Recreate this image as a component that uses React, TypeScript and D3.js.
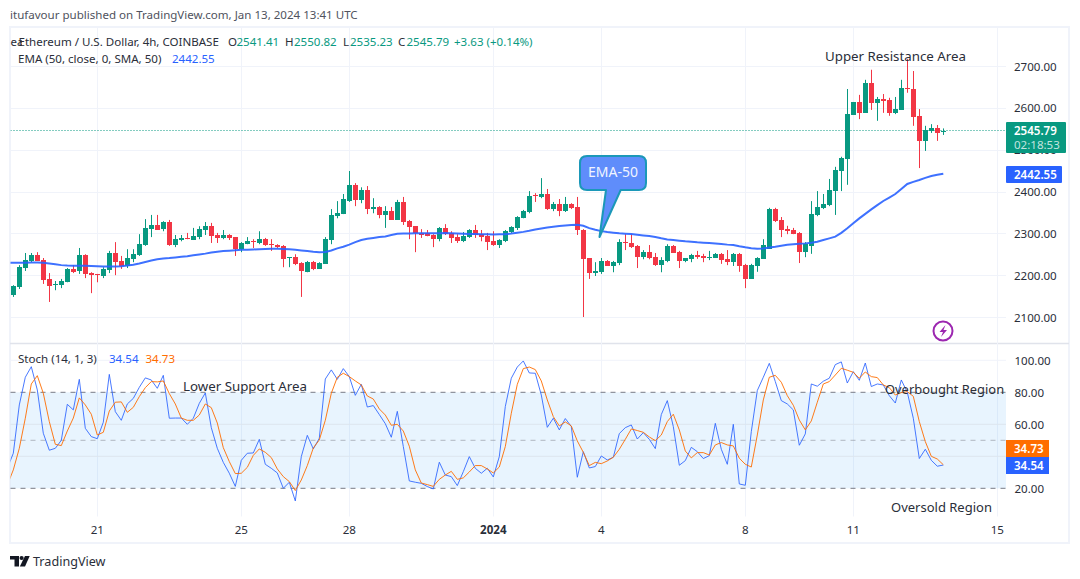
import React from "react";
import * as d3 from "d3";

const opens = [2152,2172,2217,2234,2248,2236,2191,2176,2176,2183,2215,2210,2248,2205,2203,2198,2212,2253,2234,2222,2238,2248,2272,2310,2320,2310,2327,2272,2284,2289,2284,2291,2308,2317,2296,2289,2296,2291,2262,2274,2281,2277,2286,2274,2272,2270,2241,2243,2229,2207,2231,2215,2227,2284,2341,2346,2377,2415,2380,2403,2358,2363,2344,2353,2332,2375,2329,2317,2300,2300,2296,2286,2313,2301,2291,2281,2291,2308,2298,2293,2281,2272,2281,2303,2313,2336,2351,2391,2387,2394,2358,2370,2353,2370,2363,2308,2241,2205,2207,2234,2222,2229,2279,2277,2270,2243,2255,2243,2224,2234,2270,2255,2234,2239,2248,2246,2241,2241,2251,2239,2231,2251,2224,2191,2222,2239,2263,2358,2332,2310,2308,2301,2255,2270,2344,2361,2368,2401,2449,2478,2583,2614,2588,2659,2612,2621,2619,2588,2595,2647,2645,2581,2521,2545,2552,2541.41];
const highs = [2176,2224,2253,2253,2255,2241,2205,2186,2191,2217,2224,2265,2250,2207,2203,2219,2258,2279,2246,2262,2262,2298,2334,2344,2344,2329,2332,2296,2296,2301,2313,2317,2327,2325,2301,2308,2298,2291,2279,2291,2286,2305,2289,2286,2274,2272,2243,2250,2231,2234,2234,2231,2291,2358,2377,2394,2449,2420,2410,2413,2384,2365,2365,2363,2380,2387,2332,2317,2310,2308,2298,2315,2322,2305,2298,2303,2310,2320,2308,2301,2305,2286,2308,2317,2341,2356,2401,2396,2432,2406,2375,2382,2387,2372,2387,2310,2241,2231,2241,2236,2234,2286,2298,2298,2272,2260,2272,2253,2243,2274,2272,2258,2241,2251,2258,2251,2258,2253,2253,2260,2253,2253,2227,2227,2243,2286,2361,2361,2339,2318,2313,2303,2279,2377,2401,2394,2430,2459,2483,2645,2614,2631,2667,2691,2626,2633,2624,2626,2667,2717,2688,2597,2557,2561,2559,2550.82];
const lows = [2148,2167,2210,2231,2234,2179,2136,2164,2169,2183,2205,2203,2193,2157,2183,2193,2205,2200,2215,2217,2231,2246,2270,2291,2308,2305,2270,2267,2281,2286,2284,2286,2296,2277,2277,2286,2284,2246,2255,2274,2265,2274,2270,2258,2265,2219,2219,2224,2148,2207,2212,2215,2227,2274,2336,2346,2375,2365,2372,2346,2348,2336,2313,2332,2332,2320,2286,2255,2289,2293,2267,2281,2296,2277,2277,2279,2289,2289,2281,2260,2270,2265,2279,2301,2308,2336,2348,2375,2384,2356,2353,2341,2351,2358,2296,2100,2191,2198,2203,2222,2207,2224,2260,2265,2217,2238,2238,2222,2207,2231,2253,2217,2231,2231,2239,2231,2236,2241,2227,2224,2222,2208,2169,2191,2208,2239,2263,2327,2291,2298,2298,2229,2243,2251,2341,2358,2365,2344,2401,2416,2583,2573,2588,2595,2569,2588,2581,2585,2595,2636,2557,2456,2497,2540,2521,2535.23];
const closes = [2174,2219,2236,2248,2234,2188,2174,2179,2186,2215,2207,2248,2203,2200,2201,2215,2253,2231,2222,2241,2250,2274,2313,2320,2308,2327,2272,2286,2289,2286,2293,2310,2317,2293,2289,2296,2289,2262,2277,2281,2280,2286,2272,2273,2267,2238,2243,2226,2210,2231,2215,2229,2286,2344,2348,2382,2415,2380,2403,2358,2363,2344,2353,2332,2375,2327,2315,2300,2297,2293,2286,2313,2298,2289,2281,2293,2308,2296,2291,2279,2272,2284,2305,2315,2339,2353,2389,2389,2394,2358,2370,2353,2370,2360,2308,2238,2205,2210,2234,2222,2231,2279,2277,2267,2243,2255,2241,2224,2236,2270,2253,2234,2241,2248,2244,2241,2243,2251,2236,2231,2251,2222,2191,2224,2241,2272,2358,2329,2308,2306,2298,2255,2274,2346,2363,2370,2404,2451,2480,2585,2614,2588,2659,2612,2621,2616,2588,2597,2647,2645,2578,2521,2547,2552,2540,2545.79];

const ema50 = [2229.6,2229.6,2229.6,2229.8,2230,2230,2229.5,2228,2226,2224,2223,2222.8,2222.5,2222.3,2222,2221.5,2221,2220.9,2221,2221.5,2223,2225,2228,2231.5,2235,2238,2240,2241,2242.5,2244,2245.5,2247.5,2249.5,2251.5,2254,2256,2257.5,2258.5,2259.5,2260.5,2261,2261.5,2262,2262.5,2263,2263,2262.5,2262,2260.5,2259,2257.5,2256,2255,2255.5,2259,2264,2268,2273,2279,2284,2287,2289,2291,2292.6,2296,2299,2299.6,2299.8,2300,2300,2300,2300,2300.3,2300.6,2300,2299.5,2299,2298.7,2298.3,2298,2297.7,2297.4,2297.6,2298,2299.5,2301.4,2303.5,2306,2309,2311.7,2314,2315.7,2317.5,2319,2320,2320.5,2318,2312.5,2308.5,2305.3,2303,2301.4,2300,2299,2298.2,2296.5,2295,2293.4,2291,2288,2285.5,2284,2282.4,2280.8,2279.6,2278.4,2277.6,2276.8,2275.6,2274.4,2273,2272,2269,2266.5,2264.5,2263,2264,2266,2268,2270.5,2272.8,2274,2275,2276,2277.6,2280,2284,2288,2292,2301,2312,2324,2335.8,2346.5,2357.3,2367.5,2377.3,2385.5,2394,2406,2418,2423,2427.5,2432.5,2437,2440,2442.55];

const stochK = [32.5,41.9,72.1,89.4,96,81.5,54.4,43.8,45,50,72.5,69,88.1,57.5,52.3,51,61.3,91.2,67.9,62.5,72.7,76.2,83.1,89,87.7,82.5,90.6,63.8,63.9,63.9,60,63.8,73.1,79.6,57.9,45,36.2,29.4,21.2,37.5,41.9,42.1,50.6,35,32.5,29.6,20,23.8,12.1,39.8,53.1,44.6,51.3,88.3,94,88.1,94.8,89.8,78.1,85,70.8,71.7,66.1,60.4,51.9,68.1,46.1,24.6,23.8,23.1,21.1,19.6,36.3,28.3,27.3,21.7,30.4,39.8,32.5,29.4,32.5,27.1,39.8,71.1,88.8,95.8,99.6,92.1,91.9,78.3,58.1,63.8,56.5,63.6,58.6,26.9,42.9,32.7,33.6,40.2,37.7,39.4,54.2,57.9,59.6,50.8,54.8,50.6,44.8,66.1,74.8,58.6,34.4,37.3,45.6,42.9,38.6,40.4,60.6,44.4,35,60,22.7,21.9,55.4,81.1,89.4,98.1,86.7,74.8,72.7,69,46.9,54,85.2,83.8,86.9,88.8,97.3,99,85.8,92.9,87.5,98.3,83.6,85.2,84.6,77.9,73.3,87.7,80,63.8,38.6,44.4,37.5,33.8,34.54];
const stochD = [22,31.5,45,63.8,85.2,90.4,79.4,61.7,47.5,46.7,55.8,63.9,76.5,72.1,66.3,53.3,55,68.3,73.8,74,67.5,70.6,77.3,82.9,86.7,86.5,87.1,79.2,72.7,63.9,62.5,62.5,65.8,72.7,70.4,60.8,45.4,36.7,29.2,29.4,33.1,40.6,44.6,42.5,39.2,32.1,27.3,24.2,18.6,25.2,34.2,45.2,50.2,62.5,79.4,89.4,91.9,89.8,87.1,84.6,77.7,75.8,69.6,65.8,59.4,60,55.8,46.3,31.5,23.3,22.3,21.2,25.6,28.3,30.6,25.6,26.5,30.2,34.2,34.2,32.1,29.6,33.3,46.1,66.9,85,94.8,95.8,94.2,87.1,75.2,64.8,59,61.5,59,49.6,42.5,34.2,36.2,35.4,37.1,39.4,44.4,50.6,57.1,56.1,55,52.1,49.8,53.3,61.7,66.3,56.5,43.3,39,42.3,42.3,40.8,47.1,48.6,47.1,46.5,38.8,35,33.3,53.3,75.2,89.4,90.6,86.3,77.9,71.9,62.7,56.5,62.1,73.8,85.2,86.7,90.8,95,93.8,92.5,88.8,92.7,89.8,89.2,84.6,82.9,78.3,79.8,80.4,77.5,61.7,49.2,40,38.3,34.73];

const priceTicks = [2100, 2200, 2300, 2400, 2500, 2600, 2700];
const stochGrid = [40, 60, 100];
const stochLabels = [20, 60, 80, 100];
const stochDashed = [80, 50, 20];
const dayTickIndex = [14, 38, 56, 80, 98, 122, 140, 164];
const dayTickLabel = ["21", "25", "28", "2024", "4", "8", "11", "15"];

const LAST_PRICE = 2545.79;
const LAST_EMA = 2442.55;
const LAST_K = 34.54;
const LAST_D = 34.73;

const UP = "#089981";
const DOWN = "#F23645";
const BLUE = "#2962FF";
const ORANGE = "#FF6D00";
const GRID = "#F0F3FA";
const INK = "#2A2E39";
const FONT = "'Noto Sans', sans-serif";
const FS = 11.55;

const x = d3.scaleLinear().domain([0, 164]).range([13.3, 997.3]);
const yP = d3.scaleLinear().domain([2100, 2700]).range([317, 66]);
const yS = d3.scaleLinear().domain([20, 100]).range([488.3, 360.3]);
const PL = 10.5, PR = 1006, PT = 28, SEP = 343.5, PB = 516.5;

const emaLine = d3.line<number>().x((_, i) => x(i - 1)).y((d) => yP(d)).curve(d3.curveLinear);
const stochLine = d3.line<number>().x((_, i) => x(i - 1)).y((d) => yS(d)).curve(d3.curveLinear);

function T(p: any) {
  return <text fontFamily={FONT} fontSize={FS} fill={INK} {...p} />;
}

export default function App() {
  return (
    <svg width={1080} height={579} style={{ position: "fixed", left: 0, top: 0, background: "#fff" }}>
      <defs>
        <clipPath id="pane"><rect x={PL} y={PT} width={PR - PL} height={PB - PT} /></clipPath>
        <clipPath id="legendClip"><rect x={10} y={30} width={12} height={24} /></clipPath>
      </defs>

      <T x={10} y={19} fill="#50535E">itufavour published on TradingView.com, Jan 13, 2024 13:41 UTC</T>

      {/* frame */}
      <rect x={10} y={27} width={1059} height={516} fill="none" stroke={GRID} strokeWidth={2} />
      <line x1={10} x2={1069} y1={SEP} y2={SEP} stroke="#E0E3EB" strokeWidth={1.5} />

      {/* grid */}
      {dayTickIndex.map((d) => (
        <line key={d} x1={Math.floor(x(d)) + 0.5} x2={Math.floor(x(d)) + 0.5} y1={PT} y2={PB} stroke={GRID} />
      ))}
      {priceTicks.map((p) => (
        <line key={p} x1={PL} x2={PR} y1={Math.round(yP(p)) + 0.5} y2={Math.round(yP(p)) + 0.5} stroke={GRID} />
      ))}
      <rect x={PL} y={yS(80)} width={PR - PL} height={yS(20) - yS(80)} fill="#2196F3" fillOpacity={0.1} />
      {stochGrid.map((s) => (
        <line key={s} x1={PL} x2={PR} y1={yS(s)} y2={yS(s)} stroke={s === 100 ? GRID : "#DCE5EE"} />
      ))}
      {stochDashed.map((s) => (
        <line key={s} x1={PL} x2={PR} y1={yS(s)} y2={yS(s)} stroke="#787B86" strokeOpacity={s === 50 ? 0.5 : 1} strokeDasharray="5 5" />
      ))}

      {/* price pane */}
      <g clipPath="url(#pane)">
        <line x1={PL} x2={PR} y1={yP(LAST_PRICE)} y2={yP(LAST_PRICE)} stroke={UP} strokeDasharray="1 2" />
        {opens.map((o, i) => {
          const c = closes[i];
          const col = c >= o ? UP : DOWN;
          const cx = x(i);
          const wx = Math.floor(cx) + 0.5;
          const top = Math.round(yP(Math.max(o, c)));
          const bot = Math.max(top + 1, Math.round(yP(Math.min(o, c))));
          return (
            <g key={i}>
              <line x1={wx} x2={wx} y1={yP(highs[i])} y2={yP(lows[i])} stroke={col} />
              <rect x={wx - 2.5} y={top} width={5} height={bot - top} fill={col} shapeRendering="crispEdges" />
            </g>
          );
        })}
        <path d={emaLine(ema50) || ""} fill="none" stroke={BLUE} strokeOpacity={0.9} strokeWidth={2} />
      </g>

      {/* stoch pane */}
      <g clipPath="url(#pane)">
        <path d={stochLine(stochK) || ""} fill="none" stroke="#2962FF" strokeOpacity={0.85} strokeWidth={1} />
        <path d={stochLine(stochD) || ""} fill="none" stroke={ORANGE} strokeOpacity={0.9} strokeWidth={1} />
      </g>

      {/* legends */}
      <T x={10.5} y={46} clipPath="url(#legendClip)">ea</T>
      <T x={18.5} y={46}>Ethereum / U.S. Dollar, 4h, COINBASE</T>
      <T x={228} y={46}>O</T><T x={236.5} y={46} fill={UP}>2541.41</T>
      <T x={285} y={46}>H</T><T x={294} y={46} fill={UP}>2550.82</T>
      <T x={343} y={46}>L</T><T x={350} y={46} fill={UP}>2535.23</T>
      <T x={398} y={46}>C</T><T x={406.5} y={46} fill={UP}>2545.79</T>
      <T x={454} y={46} fill={UP}>+3.63 (+0.14%)</T>
      <T x={18} y={63}>EMA (50, close, 0, SMA, 50)</T>
      <T x={172} y={63} fill={BLUE}>{LAST_EMA.toFixed(2)}</T>
      <T x={18} y={363}>Stoch (14, 1, 3)</T>
      <T x={109} y={363} fill={BLUE}>{LAST_K.toFixed(2)}</T>
      <T x={145.5} y={363} fill={ORANGE}>{LAST_D.toFixed(2)}</T>

      {/* annotations */}
      <T x={825} y={61} fontSize={13.3}>Upper Resistance Area</T>
      <T x={183} y={391} fontSize={13.3}>Lower Support Area</T>
      <T x={885} y={394} fontSize={12.9}>Overbought Region</T>
      <T x={891} y={512} fontSize={13}>Oversold Region</T>

      {/* callout */}
      <path
        d="M587 156 H639 Q646 156 646 163 V183 Q646 190 639 190 H620.7 L599.5 237 L606 190 H587 Q580 190 580 183 V163 Q580 156 587 156 Z"
        fill="#5F8DFB" stroke="#1B98B8" strokeWidth={2} strokeLinejoin="round"
      />
      <T x={613} y={177} fontSize={14} fill="#F0F4FF" textAnchor="middle">EMA-50</T>

      {/* lightning icon */}
      <circle cx={943} cy={331} r={9.5} fill="#fff" stroke="#9C27B0" strokeWidth={2} />
      <path d="M945.5 325 L939.5 332 H943 L941 337 L947 330 H943.5 Z" fill="#9C27B0" />

      {/* axes */}
      {priceTicks.map((p) => (
        <T key={p} x={1014} y={yP(p) + 4.5}>{p.toFixed(2)}</T>
      ))}
      {stochLabels.map((s) => (
        <T key={s} x={1014.5} y={yS(s) + 4.5}>{s.toFixed(2)}</T>
      ))}
      {dayTickIndex.map((d, i) => (
        <T key={d} x={x(d)} y={533.5} textAnchor="middle" fontWeight={dayTickLabel[i] === "2024" ? 700 : 400}>
          {dayTickLabel[i]}
        </T>
      ))}

      {/* last value tags */}
      <rect x={1006} y={122} width={60} height={31} fill={UP} rx={1} />
      <T x={1014} y={134.5} fill="#fff" fontWeight={600}>{LAST_PRICE.toFixed(2)}</T>
      <T x={1014} y={149} fill="#fff" fillOpacity={0.75}>02:18:53</T>
      <rect x={1006} y={166} width={56} height={17} fill={BLUE} rx={1} />
      <T x={1014} y={179} fill="#fff" fontWeight={600}>{LAST_EMA.toFixed(2)}</T>
      <rect x={1006} y={440} width={43} height={17} fill={ORANGE} />
      <T x={1014} y={453} fill="#fff" fontWeight={600}>{LAST_D.toFixed(2)}</T>
      <rect x={1006} y={457} width={43} height={17} fill={BLUE} />
      <T x={1014} y={470} fill="#fff" fontWeight={600}>{LAST_K.toFixed(2)}</T>

      {/* footer logo */}
      <g fill="#131722">
        <path d="M10 556 H19 V566.5 H14.5 V559.6 H10 Z" />
        <circle cx={21.6} cy={558} r={2.1} />
        <path d="M25 556 H29.7 L25 566.5 H19.8 Z" />
      </g>
      <T x={33} y={566} fontSize={12.6}>TradingView</T>
    </svg>
  );
}
